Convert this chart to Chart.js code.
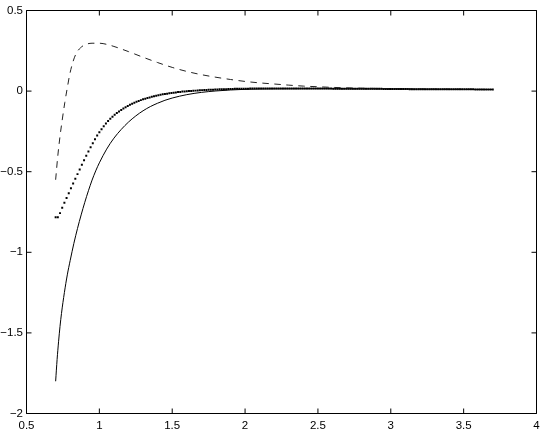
<!DOCTYPE html>
<html>
<head>
<meta charset="utf-8">
<script src="https://cdn.jsdelivr.net/npm/chart.js@4.4.0/dist/chart.umd.min.js"></script>
<style>
  body { margin: 0; background: #fff; }
  canvas { display: block; }
</style>
</head>
<body>
<canvas id="plot" width="545" height="431"></canvas>
<script>
const xTicks = [0.5, 1, 1.5, 2, 2.5, 3, 3.5, 4];
const yTicks = [-2, -1.5, -1, -0.5, 0, 0.5];

// solid curve
const solidX = [0.70, 0.71, 0.72, 0.73, 0.74, 0.76, 0.78, 0.80, 0.825, 0.85, 0.875, 0.90, 0.925, 0.95, 0.975,
  1.00, 1.05, 1.10, 1.15, 1.20, 1.25, 1.30, 1.35, 1.40, 1.45, 1.50, 1.60, 1.70, 1.80, 1.90, 2.00,
  2.20, 2.50, 3.00, 3.50, 3.70];
const solidY = [-1.800, -1.665, -1.555, -1.460, -1.380, -1.250, -1.140, -1.050, -0.945, -0.852, -0.768, -0.690, -0.618, -0.552, -0.495,
  -0.445, -0.360, -0.292, -0.238, -0.192, -0.154, -0.122, -0.096, -0.075, -0.057, -0.043, -0.022, -0.008, 0.001, 0.007, 0.011,
  0.014, 0.015, 0.013, 0.011, 0.010];

// dashed curve
const dashX = [0.70, 0.715, 0.73, 0.745, 0.763, 0.78, 0.797, 0.82, 0.843, 0.87, 0.90, 0.95, 1.00, 1.05, 1.10,
  1.20, 1.30, 1.40, 1.50, 1.60, 1.70, 1.80, 1.90, 2.00, 2.10, 2.20, 2.30, 2.40, 2.50, 2.60, 2.80, 3.00, 3.30, 3.70];
const dashY = [-0.550, -0.400, -0.280, -0.180, -0.070, 0.020, 0.105, 0.185, 0.237, 0.268, 0.287, 0.297, 0.297, 0.290, 0.277,
  0.245, 0.210, 0.177, 0.147, 0.122, 0.102, 0.086, 0.072, 0.060, 0.051, 0.044, 0.037, 0.031, 0.027, 0.023, 0.018, 0.015, 0.012, 0.010];

// dotted curve, one marker every 0.015 from 0.7 to 3.7
const dotStart = 0.7;
const dotStep = 0.015;
const dotY = [
  -0.782, -0.783, -0.757, -0.724, -0.693, -0.663, -0.633, -0.603, -0.573, -0.544,
  -0.515, -0.486, -0.457, -0.429, -0.401, -0.374, -0.348, -0.323, -0.299, -0.276,
  -0.255, -0.236, -0.218, -0.201, -0.186, -0.172, -0.159, -0.147, -0.136, -0.126,
  -0.117, -0.108, -0.100, -0.092, -0.085, -0.078, -0.072, -0.066, -0.061, -0.056,
  -0.051, -0.047, -0.043, -0.039, -0.035, -0.032, -0.029, -0.026, -0.023, -0.020,
  -0.018, -0.016, -0.014, -0.012, -0.010, -0.008, -0.006, -0.005, -0.003, -0.002,
  -0.001, 0.000, 0.001, 0.002, 0.003, 0.004, 0.005, 0.006, 0.007, 0.007,
  0.008, 0.009, 0.009, 0.010, 0.010, 0.011, 0.011, 0.012, 0.012, 0.013,
  0.013, 0.013, 0.014, 0.014, 0.014, 0.015, 0.015, 0.015, 0.015, 0.016,
  0.016, 0.016, 0.016, 0.016, 0.016, 0.016, 0.016, 0.016, 0.016, 0.016,
  0.016, 0.016, 0.016, 0.016, 0.016, 0.016, 0.016, 0.016, 0.016, 0.016,
  0.016, 0.016, 0.016, 0.016, 0.016, 0.016, 0.016, 0.016, 0.016, 0.016,
  0.016, 0.016, 0.016, 0.016, 0.016, 0.016, 0.016, 0.015, 0.015, 0.015,
  0.015, 0.015, 0.015, 0.015, 0.015, 0.015, 0.015, 0.015, 0.015, 0.015,
  0.014, 0.014, 0.014, 0.014, 0.014, 0.014, 0.014, 0.014, 0.014, 0.014,
  0.013, 0.013, 0.013, 0.013, 0.013, 0.013, 0.013, 0.013, 0.013, 0.013,
  0.013, 0.013, 0.012, 0.012, 0.012, 0.012, 0.012, 0.012, 0.012, 0.012,
  0.012, 0.012, 0.012, 0.012, 0.012, 0.012, 0.012, 0.012, 0.012, 0.012,
  0.011, 0.011, 0.011, 0.011, 0.011, 0.011, 0.011, 0.011, 0.011, 0.011,
  0.011, 0.011, 0.010, 0.010, 0.010, 0.010, 0.010, 0.010, 0.010, 0.010,
  0.010
];

const toPoints = (xs, ys) => xs.map((x, i) => ({ x: x, y: ys[i] }));
const dotPoints = dotY.map((y, i) => ({ x: dotStart + dotStep * i, y: y }));

const fmt = v => (v < 0 ? '\u2212' + Math.abs(v) : String(v));

// matlab style box with inward ticks on all four sides
const boxTicks = {
  id: 'boxTicks',
  afterDraw(chart) {
    const { ctx, chartArea: a } = chart;
    const sx = chart.scales.x, sy = chart.scales.y;
    const len = 5;
    ctx.save();
    ctx.strokeStyle = '#000';
    ctx.lineWidth = 1;
    ctx.beginPath();
    ctx.rect(a.left, a.top, a.right - a.left, a.bottom - a.top);
    xTicks.forEach(v => {
      const px = sx.getPixelForValue(v);
      ctx.moveTo(px, a.bottom); ctx.lineTo(px, a.bottom - len);
      ctx.moveTo(px, a.top); ctx.lineTo(px, a.top + len);
    });
    yTicks.forEach(v => {
      const py = sy.getPixelForValue(v);
      ctx.moveTo(a.left, py); ctx.lineTo(a.left + len, py);
      ctx.moveTo(a.right, py); ctx.lineTo(a.right - len, py);
    });
    ctx.stroke();
    ctx.restore();
  }
};

const tickFont = { family: '"Liberation Sans", Arial, Helvetica, sans-serif', size: 11.5 };

new Chart(document.getElementById('plot'), {
  type: 'scatter',
  data: {
    datasets: [
      {
        data: toPoints(solidX, solidY),
        showLine: true,
        borderColor: '#000',
        borderWidth: 1,
        pointRadius: 0,
        cubicInterpolationMode: 'monotone'
      },
      {
        data: toPoints(dashX, dashY),
        showLine: true,
        borderColor: '#222',
        borderWidth: 1,
        borderDash: [6.5, 5.5],
        pointRadius: 0,
        cubicInterpolationMode: 'monotone'
      },
      {
        data: dotPoints,
        showLine: false,
        pointStyle: 'rect',
        pointRadius: 1.4,
        pointBorderWidth: 0,
        pointBackgroundColor: '#000'
      }
    ]
  },
  options: {
    responsive: false,
    animation: false,
    layout: { padding: { top: 10.5, right: 8.5, left: 0, bottom: 0 } },
    plugins: { legend: { display: false }, tooltip: { enabled: false } },
    scales: {
      x: {
        type: 'linear',
        min: 0.5,
        max: 4,
        grid: { display: false, drawTicks: false },
        border: { display: false },
        afterBuildTicks: s => { s.ticks = xTicks.map(v => ({ value: v })); },
        afterFit: s => { s.height = 17.5; },
        ticks: { color: '#000', font: tickFont, padding: 5, autoSkip: false, maxRotation: 0, callback: fmt }
      },
      y: {
        type: 'linear',
        min: -2,
        max: 0.5,
        grid: { display: false, drawTicks: false },
        border: { display: false },
        afterBuildTicks: s => { s.ticks = yTicks.map(v => ({ value: v })); },
        afterFit: s => { s.width = 26.5; },
        ticks: { color: '#000', font: tickFont, padding: 3.5, autoSkip: false, callback: fmt }
      }
    }
  },
  plugins: [boxTicks]
});
</script>
</body>
</html>
